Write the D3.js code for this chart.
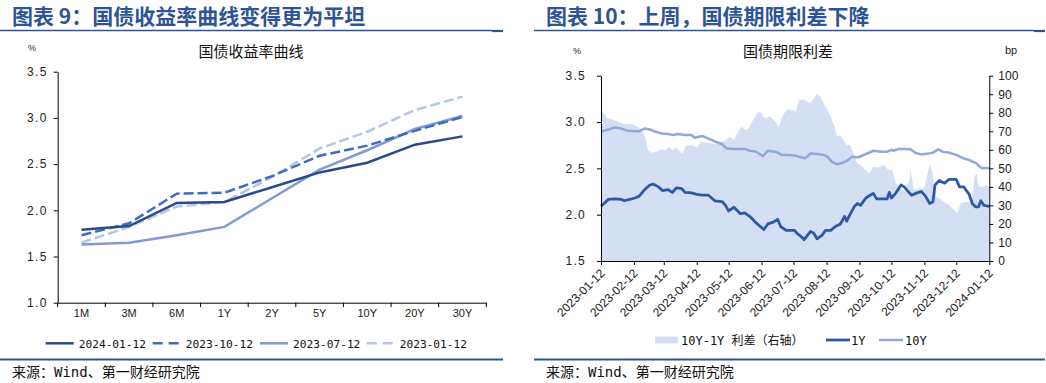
<!DOCTYPE html>
<html><head><meta charset="utf-8">
<script src="https://cdn.jsdelivr.net/npm/d3@7"></script>
<style>body{margin:0;background:#fff}svg{display:block}</style>
</head><body><svg id="c" width="1046" height="383"></svg>
<script>
// ---------- Left chart data: yield curves ----------
const tenors = ["1M","3M","6M","1Y","2Y","5Y","10Y","20Y","30Y"];
const curve20240112 = [1.79,1.83,2.08,2.09,2.25,2.41,2.515,2.71,2.80];
const curve20231012 = [1.73,1.86,2.18,2.19,2.37,2.59,2.70,2.86,3.01];
const curve20230712 = [1.63,1.65,1.73,1.82,2.13,2.44,2.65,2.88,3.02];
const curve20230112 = [1.65,1.82,2.04,2.09,2.36,2.67,2.85,3.085,3.23];
const curveNames = ["2024-01-12","2023-10-12","2023-07-12","2023-01-12"];
const yieldTicks = [1.0,1.5,2.0,2.5,3.0,3.5];

// ---------- Right chart data: term spread ----------
const monthTicks = ["2023-01-12","2023-02-12","2023-03-12","2023-04-12","2023-05-12","2023-06-12","2023-07-12","2023-08-12","2023-09-12","2023-10-12","2023-11-12","2023-12-12","2024-01-12"];
const leftTicks = [1.5,2.0,2.5,3.0,3.5];
const rightTicks = [0,10,20,30,40,50,60,70,80,90,100];

const y1Dates = ["2023-01-12","2023-01-19","2023-01-25","2023-01-31","2023-02-03","2023-02-06","2023-02-13","2023-02-17","2023-02-22","2023-02-27","2023-03-02","2023-03-07","2023-03-11","2023-03-16","2023-03-20","2023-03-24","2023-03-29","2023-04-01","2023-04-07","2023-04-12","2023-04-17","2023-04-23","2023-04-29","2023-05-06","2023-05-09","2023-05-12","2023-05-17","2023-05-23","2023-05-27","2023-06-01","2023-06-06","2023-06-11","2023-06-14","2023-06-18","2023-06-23","2023-06-27","2023-06-30","2023-07-05","2023-07-13","2023-07-15","2023-07-20","2023-07-22","2023-07-28","2023-07-31","2023-08-03","2023-08-08","2023-08-11","2023-08-16","2023-08-20","2023-08-25","2023-08-29","2023-08-31","2023-09-03","2023-09-07","2023-09-10","2023-09-13","2023-09-18","2023-09-22","2023-09-25","2023-09-28","2023-10-03","2023-10-08","2023-10-10","2023-10-12","2023-10-16","2023-10-21","2023-10-24","2023-10-27","2023-10-31","2023-11-04","2023-11-09","2023-11-13","2023-11-17","2023-11-20","2023-11-22","2023-11-26","2023-12-01","2023-12-05","2023-12-12","2023-12-15","2023-12-19","2023-12-24","2023-12-27","2023-12-30","2024-01-02","2024-01-04","2024-01-07","2024-01-12"];
const y1Values = [2.09,2.165,2.17,2.165,2.15,2.16,2.18,2.20,2.27,2.32,2.33,2.30,2.26,2.27,2.24,2.29,2.28,2.24,2.235,2.22,2.21,2.21,2.15,2.14,2.10,2.04,2.08,2.01,2.02,1.98,1.92,1.87,1.84,1.90,1.92,1.95,1.87,1.83,1.83,1.80,1.755,1.73,1.82,1.80,1.74,1.78,1.83,1.83,1.87,1.90,1.98,1.93,2.00,2.085,2.12,2.10,2.18,2.21,2.23,2.17,2.17,2.17,2.24,2.18,2.23,2.32,2.30,2.26,2.21,2.23,2.25,2.20,2.12,2.14,2.32,2.37,2.34,2.38,2.38,2.30,2.30,2.22,2.12,2.085,2.085,2.15,2.10,2.09];

const y10Dates = ["2023-01-12","2023-01-19","2023-01-25","2023-01-31","2023-02-06","2023-02-13","2023-02-17","2023-02-22","2023-02-27","2023-03-03","2023-03-10","2023-03-16","2023-03-21","2023-03-25","2023-04-01","2023-04-07","2023-04-10","2023-04-17","2023-04-23","2023-04-29","2023-05-06","2023-05-10","2023-05-17","2023-05-23","2023-05-27","2023-06-01","2023-06-07","2023-06-13","2023-06-18","2023-06-25","2023-07-01","2023-07-07","2023-07-13","2023-07-17","2023-07-23","2023-07-28","2023-08-03","2023-08-09","2023-08-13","2023-08-17","2023-08-22","2023-08-27","2023-08-31","2023-09-05","2023-09-11","2023-09-18","2023-09-25","2023-10-02","2023-10-08","2023-10-12","2023-10-14","2023-10-19","2023-10-25","2023-10-30","2023-11-03","2023-11-09","2023-11-16","2023-11-20","2023-11-25","2023-11-29","2023-12-05","2023-12-12","2023-12-18","2023-12-24","2023-12-30","2024-01-05","2024-01-09","2024-01-12"];
const y10Values = [2.895,2.92,2.94,2.93,2.905,2.90,2.90,2.93,2.92,2.90,2.875,2.87,2.86,2.87,2.86,2.86,2.83,2.85,2.82,2.79,2.76,2.715,2.71,2.71,2.71,2.69,2.68,2.63,2.69,2.68,2.645,2.645,2.64,2.625,2.61,2.66,2.655,2.645,2.625,2.57,2.545,2.56,2.58,2.625,2.62,2.655,2.69,2.68,2.68,2.70,2.69,2.71,2.71,2.705,2.67,2.65,2.66,2.67,2.705,2.68,2.67,2.645,2.61,2.59,2.56,2.50,2.505,2.50];

const spreadDates = ["2023-01-12","2023-01-15","2023-01-18","2023-01-21","2023-01-28","2023-02-03","2023-02-09","2023-02-16","2023-02-20","2023-02-23","2023-02-25","2023-02-28","2023-03-05","2023-03-09","2023-03-14","2023-03-17","2023-03-20","2023-03-24","2023-03-27","2023-03-30","2023-04-02","2023-04-07","2023-04-12","2023-04-16","2023-04-23","2023-04-29","2023-05-06","2023-05-10","2023-05-13","2023-05-17","2023-05-21","2023-05-24","2023-05-28","2023-05-31","2023-06-04","2023-06-09","2023-06-12","2023-06-15","2023-06-20","2023-06-25","2023-06-28","2023-07-02","2023-07-06","2023-07-11","2023-07-14","2023-07-17","2023-07-22","2023-07-25","2023-07-28","2023-07-31","2023-08-03","2023-08-06","2023-08-09","2023-08-12","2023-08-16","2023-08-19","2023-08-22","2023-08-25","2023-08-28","2023-08-31","2023-09-03","2023-09-07","2023-09-10","2023-09-13","2023-09-16","2023-09-21","2023-09-25","2023-09-30","2023-10-05","2023-10-09","2023-10-13","2023-10-16","2023-10-19","2023-10-24","2023-10-29","2023-10-30","2023-11-02","2023-11-07","2023-11-12","2023-11-15","2023-11-17","2023-11-19","2023-11-23","2023-11-26","2023-11-30","2023-12-05","2023-12-10","2023-12-13","2023-12-16","2023-12-21","2023-12-26","2023-12-29","2023-12-31","2024-01-02","2024-01-06","2024-01-09","2024-01-12"];
const spreadValues = [80.6,79.7,77,76.6,75.2,74,73.9,72.5,69.8,66,59.9,58.4,59,60.3,59.9,61.7,59.9,61.3,59,58.1,62.1,62.6,61.3,64.4,63.8,63,64.4,65.3,67.1,65.3,69.8,72.5,70.7,71.6,76.1,80.6,79.7,77,78,75.2,72.5,78.8,81.9,81.5,80.6,86.9,87.2,86,85.1,87.8,90.1,88.9,85.1,82.4,77.9,73.4,67.1,68,65.3,62.6,62.6,57.2,52.7,51.8,50,47.3,50.9,50.5,51.8,49.1,49.1,41.9,40.1,37.4,43.7,49.1,38.3,39.2,39.2,47.3,51.8,49.1,34.7,33.8,32,30.2,27.5,25.7,31.1,32,31.6,45.5,47.3,40.1,40.1,41,40.1];

// ---------- styles ----------
const BLUE = "#2f5496";
const CJK = "'Noto Sans CJK SC', sans-serif";
const MONO = "'DejaVu Sans Mono', 'Noto Sans CJK SC', monospace";
const SANS = "'Liberation Sans', Arial, sans-serif";
const svg = d3.select("#c");
const parse = d3.timeParse("%Y-%m-%d");

// ---------- headers / footers ----------
function frame(x0, x1, title) {
  svg.append("text").attr("x", x0 + 12).attr("y", 24).attr("font-family", CJK)
    .attr("font-weight", 700).attr("font-size", 21).attr("fill", BLUE).text(title);
  svg.append("line").attr("x1", x0).attr("x2", x1 - 11).attr("y1", 30.5).attr("y2", 30.5)
    .attr("stroke", BLUE).attr("stroke-width", 1.3);
  svg.append("line").attr("x1", x1 - 11).attr("x2", x1).attr("y1", 31).attr("y2", 31)
    .attr("stroke", BLUE).attr("stroke-width", 2.2);
  svg.append("line").attr("x1", x0).attr("x2", x1).attr("y1", 359.5).attr("y2", 359.5)
    .attr("stroke", BLUE).attr("stroke-width", 2);
  svg.append("text").attr("x", x0 + 12).attr("y", 377).attr("font-family", MONO)
    .attr("font-size", 14).attr("fill", "#111").text("来源：Wind、第一财经研究院");
}
frame(0, 503, "图表 9：国债收益率曲线变得更为平坦");
frame(534, 1045, "图表 10：上周，国债期限利差下降");

// ---------- Left chart ----------
{
  const x = d3.scaleBand().domain(tenors).range([57.7, 486.3]);
  const y = d3.scaleLinear().domain([1, 3.5]).range([302.7, 71.7]);
  const g = svg.append("g");
  g.append("text").attr("x", 28).attr("y", 51).attr("font-family", SANS).attr("font-size", 9).attr("fill", "#222").text("%");
  g.append("text").attr("x", 251).attr("y", 57).attr("text-anchor", "middle").attr("font-family", CJK)
    .attr("font-size", 15).attr("fill", "#111").text("国债收益率曲线");
  // y axis
  const ya = g.append("g").attr("transform", "translate(57.7,0)")
    .call(d3.axisLeft(y).tickValues(yieldTicks).tickFormat(d3.format(".1f")).tickSize(4).tickSizeOuter(0));
  ya.select(".domain").attr("stroke", "#000");
  ya.selectAll("text").attr("font-family", SANS).attr("font-size", 12).attr("letter-spacing", 1.3)
    .attr("fill", "#222").attr("dx", -3);
  // x axis with ticks at band boundaries
  const xa = g.append("g").attr("transform", "translate(0,302.7)")
    .call(d3.axisBottom(x).tickSize(0));
  xa.select(".domain").attr("stroke", "#000");
  xa.selectAll("text").attr("font-family", SANS).attr("font-size", 11).attr("fill", "#222").attr("dy", "1.05em");
  const bounds = tenors.map(t => x(t)).concat([x.range()[1]]);
  g.selectAll(".bt").data(bounds).join("line").attr("x1", d => d).attr("x2", d => d)
    .attr("y1", 302.7).attr("y2", 307).attr("stroke", "#000");
  const series = [
    {name: curveNames[0], vals: curve20240112, color: "#2b4a8b", dash: null},
    {name: curveNames[1], vals: curve20231012, color: "#3e6cc0", dash: "10,4"},
    {name: curveNames[2], vals: curve20230712, color: "#7f9ad6", dash: null},
    {name: curveNames[3], vals: curve20230112, color: "#b5c5e8", dash: "10,4"}
  ];
  const line = d3.line().x((d, i) => x(tenors[i]) + x.bandwidth() / 2).y(d => y(d));
  [...series].reverse().forEach(s => {
    g.append("path").attr("d", line(s.vals)).attr("fill", "none").attr("stroke", s.color)
      .attr("stroke-width", 2.5).attr("stroke-dasharray", s.dash);
  });
  // legend
  const lx = [45.7, 152.7, 260, 366.7];
  series.forEach((s, i) => {
    g.append("line").attr("x1", lx[i]).attr("x2", lx[i] + 28).attr("y1", 343.3).attr("y2", 343.3)
      .attr("stroke", s.color).attr("stroke-width", 2.5).attr("stroke-dasharray", s.dash ? "10,6" : null);
    g.append("text").attr("x", lx[i] + 33).attr("y", 347.5).attr("font-family", MONO)
      .attr("font-size", 11.2).attr("fill", "#111").text(s.name);
  });
}

// ---------- Right chart ----------
{
  const x = d3.scaleTime().domain([parse(monthTicks[0]), parse(monthTicks[monthTicks.length - 1])]).range([601, 989.3]);
  const yL = d3.scaleLinear().domain([1.5, 3.5]).range([261, 75.7]);
  const yR = d3.scaleLinear().domain([0, 100]).range([261, 75.7]);
  const g = svg.append("g");
  g.append("text").attr("x", 573).attr("y", 54).attr("font-family", SANS).attr("font-size", 9).attr("fill", "#222").text("%");
  g.append("text").attr("x", 1005).attr("y", 54).attr("font-family", SANS).attr("font-size", 11).attr("fill", "#222").text("bp");
  g.append("text").attr("x", 788).attr("y", 57).attr("text-anchor", "middle").attr("font-family", CJK)
    .attr("font-size", 15).attr("fill", "#111").text("国债期限利差");

  const spread = spreadDates.map((d, i) => ({d: parse(d), v: spreadValues[i]}));
  const s1 = y1Dates.map((d, i) => ({d: parse(d), v: y1Values[i]}));
  const s10 = y10Dates.map((d, i) => ({d: parse(d), v: y10Values[i]}));
  g.append("path").datum(spread).attr("fill", "#d5dff3")
    .attr("d", d3.area().x(p => x(p.d)).y0(yR(0)).y1(p => yR(p.v)));
  g.append("path").datum(s10).attr("fill", "none").attr("stroke", "#90a9da").attr("stroke-width", 2.5)
    .attr("stroke-linejoin", "round").attr("d", d3.line().x(p => x(p.d)).y(p => yL(p.v)));
  g.append("path").datum(s1).attr("fill", "none").attr("stroke", "#2f59a8").attr("stroke-width", 2.8)
    .attr("stroke-linejoin", "round").attr("d", d3.line().x(p => x(p.d)).y(p => yL(p.v)));

  const la = g.append("g").attr("transform", "translate(601,0)")
    .call(d3.axisLeft(yL).tickValues(leftTicks).tickFormat(d3.format(".1f")).tickSize(4).tickSizeOuter(0));
  la.select(".domain").attr("stroke", "#000");
  la.selectAll("text").attr("font-family", SANS).attr("font-size", 12).attr("letter-spacing", 1.3)
    .attr("fill", "#222").attr("dx", -8);
  const ra = g.append("g").attr("transform", "translate(989.3,0)")
    .call(d3.axisRight(yR).tickValues(rightTicks).tickSize(4).tickSizeOuter(0));
  ra.select(".domain").attr("stroke", "#000");
  ra.selectAll("text").attr("font-family", SANS).attr("font-size", 12).attr("fill", "#222").attr("dx", 2);
  const xa = g.append("g").attr("transform", "translate(0,261)")
    .call(d3.axisBottom(x).tickValues(monthTicks.map(parse)).tickFormat(d3.timeFormat("%Y-%m-%d")).tickSize(4).tickSizeOuter(0));
  xa.select(".domain").attr("stroke", "#000");
  xa.selectAll("text").attr("font-family", SANS).attr("font-size", 12).attr("fill", "#222")
    .attr("text-anchor", "end").attr("dy", 0).attr("y", 0)
    .attr("transform", "translate(4,13) rotate(-45)");

  // legend
  g.append("rect").attr("x", 655).attr("y", 336.5).attr("width", 23).attr("height", 7).attr("fill", "#d5dff3");
  g.append("text").attr("x", 681).attr("y", 344.5).attr("font-family", MONO).attr("font-size", 12)
    .attr("fill", "#111").text("10Y-1Y 利差（右轴）");
  g.append("line").attr("x1", 826).attr("x2", 850).attr("y1", 340).attr("y2", 340).attr("stroke", "#2f59a8").attr("stroke-width", 2.8);
  g.append("text").attr("x", 851).attr("y", 344.5).attr("font-family", MONO).attr("font-size", 12).attr("fill", "#111").text("1Y");
  g.append("line").attr("x1", 879).attr("x2", 903).attr("y1", 340).attr("y2", 340).attr("stroke", "#90a9da").attr("stroke-width", 2.5);
  g.append("text").attr("x", 905).attr("y", 344.5).attr("font-family", MONO).attr("font-size", 12).attr("fill", "#111").text("10Y");
}
</script></body></html>
